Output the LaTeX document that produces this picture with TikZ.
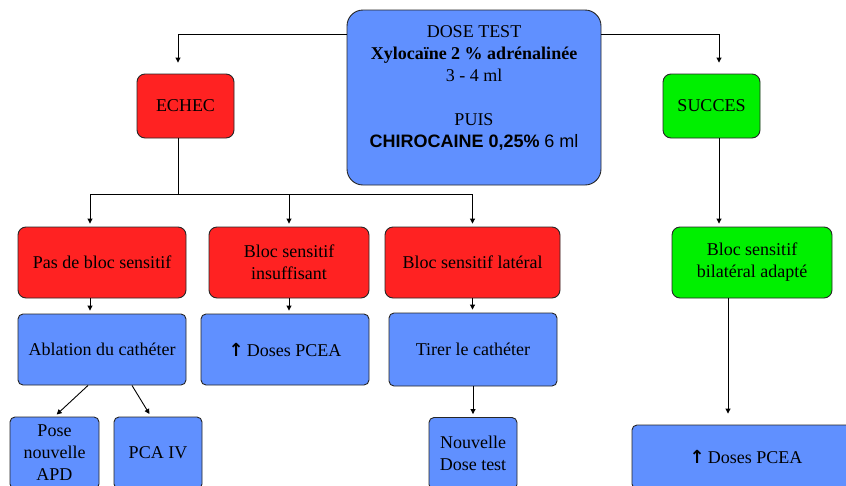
\documentclass[tikz,border=0pt]{standalone}
\usepackage{fontspec}
\setmainfont{Liberation Serif}
\setsansfont{Liberation Sans}
\newfontfamily\arrowfont{DejaVu Sans}
\usetikzlibrary{arrows.meta}
\usepackage{xcolor}
\definecolor{boxblue}{HTML}{6090FF}
\definecolor{boxred}{HTML}{FF2222}
\definecolor{boxgreen}{HTML}{00F000}
\tikzset{
  box/.style={draw=black!85, line width=0.9pt, rounded corners=5pt, align=center,
    inner sep=2pt, font=\fontsize{18}{22}\selectfont},
  bluebox/.style={box, fill=boxblue},
  redbox/.style={box, fill=boxred, rounded corners=8pt},
  greenbox/.style={box, fill=boxgreen, rounded corners=8pt},
  arr/.style={-{Triangle[width=5pt,length=5pt]}, line width=0.9pt, shorten >=3pt},
  longgap/.style={shorten >=11pt},
}
\newcommand{\upar}{{\arrowfont\bfseries ↑}}

\begin{document}
\begin{tikzpicture}[x=1pt, y=-1pt]
	\useasboundingbox (0,0) rectangle (846,485);
	\clip (0,0) rectangle (846,485);
	% top
	\node[bluebox, rounded corners=16pt, minimum width=254pt, minimum height=175pt] (dose) at (474,97.5)
		{DOSE TEST\\ \textbf{Xylocaïne 2 \% adrénalinée}\\ 3 - 4 ml\\[22pt] PUIS\\
		{\sffamily\bfseries CHIROCAINE 0,25\%} {\sffamily 6 ml}\\ \mbox{}};
	\node[redbox, minimum width=97pt, minimum height=64pt] (echec) at (185.5,106) {ECHEC};
	\node[greenbox, minimum width=97pt, minimum height=64pt] (succes) at (711.5,106) {SUCCES};
	% second row
	\node[redbox, minimum width=168pt, minimum height=71pt] (pas) at (102,262.5) {Pas de bloc sensitif};
	\node[redbox, minimum width=160pt, minimum height=71pt] (insuf) at (289,262.5) {Bloc sensitif\\ insuffisant};
	\node[redbox, minimum width=175pt, minimum height=71pt] (lat) at (472.5,262.5) {Bloc sensitif latéral};
	\node[greenbox, minimum width=160pt, minimum height=71pt] (bilat) at (752,262.5) {Bloc sensitif\\ bilatéral adapté};
	% third row
	\node[bluebox, minimum width=168pt, minimum height=71pt] (ablation) at (102,349.5) {Ablation du cathéter};
	\node[bluebox, minimum width=168pt, minimum height=71pt] (pcea) at (285,349.5) {\upar\,Doses PCEA};
	\node[bluebox, minimum width=168pt, minimum height=73pt] (tirer) at (473,349.5) {Tirer le cathéter};
	% fourth row
	\node[bluebox, minimum width=89pt, minimum height=72pt] (pose) at (54.5,453) {Pose\\ nouvelle\\ APD};
	\node[bluebox, minimum width=88pt, minimum height=72pt] (pcaiv) at (158,453) {PCA IV};
	\node[bluebox, minimum width=88pt, minimum height=72pt] (nouv) at (473,453.5) {Nouvelle\\ Dose test};
	\node[bluebox, minimum width=228pt, minimum height=64pt] (pcea2) at (746,457) {\upar\,Doses PCEA};

	% connectors
	\draw[arr, longgap] ([yshift=-25pt]dose.north west) -| ([xshift=-7.5pt]echec.north);
	\draw[arr, longgap] ([yshift=-25pt]dose.north east) -| ([xshift=7.5pt]succes.north);
	\coordinate (split) at (178,194);
	\draw[line width=0.9pt] ([xshift=-7.5pt]echec.south) -- (split);
	\draw[arr] (split) -| ([xshift=-12pt]pas.north);
	\draw[arr] (split) -| (insuf.north);
	\draw[arr] (split) -| (lat.north);
	\draw[arr] ([xshift=7.5pt]succes.south) -- ([xshift=7.5pt]succes.south |- bilat.north);
	\draw[arr] ([xshift=-12pt]pas.south) -- ([xshift=-12pt]ablation.north);
	\draw[arr] (insuf.south) -- (insuf.south |- pcea.north);
	\draw[arr] (lat.south) -- (lat.south |- tirer.north);
	\draw[arr] ([xshift=-14pt]ablation.south) -- (pose.north);
	\draw[arr] ([xshift=30pt]ablation.south) -- ([xshift=-7pt]pcaiv.north);
	\draw[arr] (tirer.south) -- (nouv.north);
	\draw[arr, longgap] ([xshift=-24pt]bilat.south) -- ([xshift=-24pt]bilat.south |- pcea2.north);
\end{tikzpicture}
\end{document}
